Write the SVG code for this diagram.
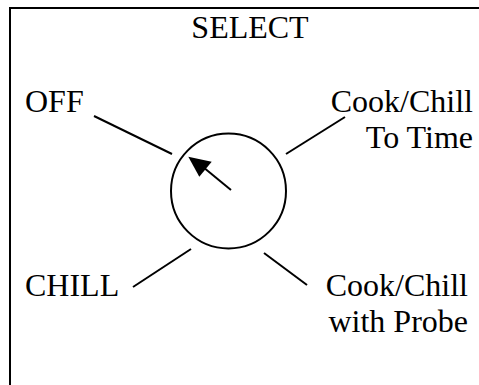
<svg xmlns="http://www.w3.org/2000/svg" width="479" height="385" viewBox="0 0 479 385">
<style>
.t{font-family:"Liberation Serif","Times New Roman",serif;font-size:32px;fill:#000}
.l{stroke:#000;stroke-width:2;fill:none}
</style>
<rect width="479" height="385" fill="#fff"/>
<g id="frame"><path class="l" d="M10,385 V8 H479"/></g>
<g id="title"><text class="t" x="250" y="38" text-anchor="middle">SELECT</text></g>
<g id="off"><text class="t" x="25" y="112">OFF</text></g>
<g id="time"><text class="t" text-anchor="end"><tspan x="473" y="112">Cook/Chill</tspan><tspan x="473" y="148">To Time</tspan></text></g>
<g id="chill"><text class="t" x="25" y="296">CHILL</text></g>
<g id="probe"><text class="t" text-anchor="end"><tspan x="468" y="296">Cook/Chill</tspan><tspan x="468" y="332">with Probe</tspan></text></g>
<g id="dial">
<circle class="l" cx="228.5" cy="191" r="57.5"/>
<line class="l" x1="231" y1="190" x2="203" y2="167"/>
<polygon points="188.3,156.7 211.7,161.7 199.3,176.7" fill="#000"/>
</g>
<g id="connectors">
<line class="l" x1="94" y1="116" x2="172" y2="154"/>
<line class="l" x1="345" y1="117" x2="286" y2="154"/>
<line class="l" x1="133" y1="287" x2="191" y2="249"/>
<line class="l" x1="264" y1="253" x2="307" y2="285"/>
</g>
</svg>
